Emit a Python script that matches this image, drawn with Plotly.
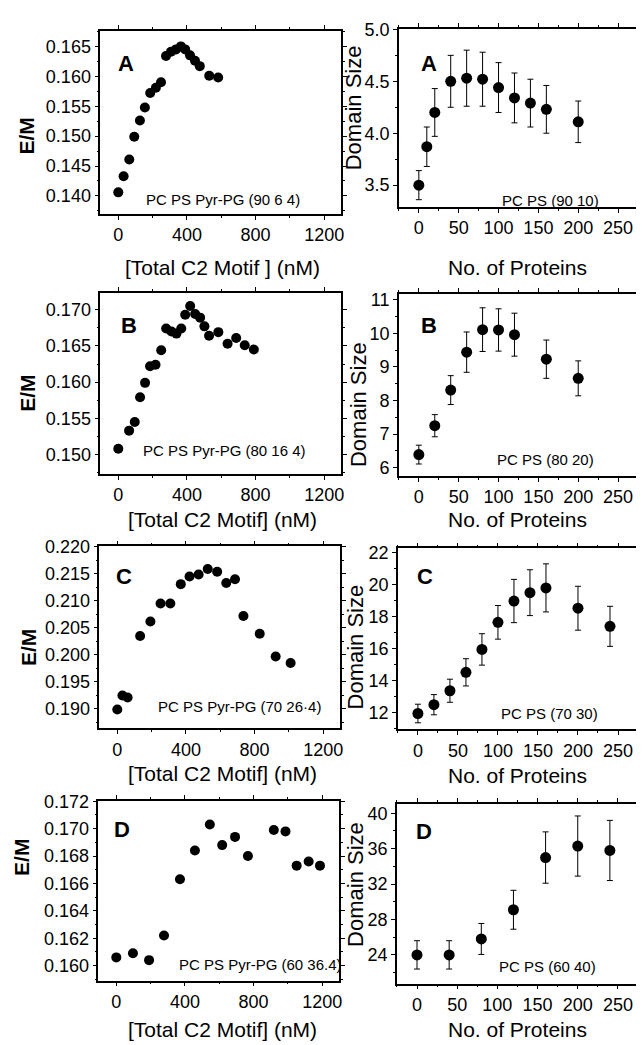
import plotly.graph_objects as go

# the page body adds an 8px margin, so the figure is sized to fit inside the window
OFF = 8
W, H = 644 - OFF, 1045 - OFF

# E/M vs total C2 motif (nM), left column
em_a_conc = [0, 31, 64, 93, 126, 155, 186, 219, 249, 278, 307, 336, 365, 390, 418, 447, 475, 530, 582]
em_a = [0.1406, 0.1433, 0.1461, 0.1499, 0.1526, 0.1548, 0.1572, 0.1581, 0.1590, 0.1634,
        0.1641, 0.1645, 0.1650, 0.1645, 0.1635, 0.1626, 0.1617, 0.1601, 0.1598]

em_b_conc = [0, 63, 96, 127, 156, 185, 217, 250, 279, 310, 339, 367, 390, 419, 448, 477,
             502, 529, 583, 637, 687, 737, 790]
em_b = [0.1508, 0.1533, 0.1545, 0.1579, 0.1599, 0.1622, 0.1624, 0.1644, 0.1674, 0.1670,
        0.1667, 0.1674, 0.1693, 0.1705, 0.1694, 0.1689, 0.1677, 0.1664, 0.1669, 0.1653,
        0.1661, 0.1651, 0.1645]

em_c_conc = [0, 30, 60, 133, 193, 252, 309, 370, 421, 474, 527, 582, 635, 686, 735, 830, 923, 1010]
em_c = [0.1899, 0.1925, 0.1921, 0.2035, 0.2062, 0.2095, 0.2095, 0.2131, 0.2145, 0.2149,
        0.2159, 0.2154, 0.2133, 0.2140, 0.2072, 0.2039, 0.1997, 0.1985]

em_d_conc = [0, 97, 191, 278, 371, 458, 545, 617, 692, 767, 918, 986, 1051, 1121, 1187]
em_d = [0.1606, 0.1609, 0.1604, 0.1622, 0.1663, 0.1684, 0.1703, 0.1688, 0.1694, 0.1680,
        0.1699, 0.1698, 0.1673, 0.1676, 0.1673]

# Domain size vs number of proteins, right column
prot_a = [0, 10, 20, 40, 60, 80, 100, 120, 140, 160, 200]
dom_a = [3.50, 3.87, 4.20, 4.50, 4.53, 4.52, 4.44, 4.34, 4.29, 4.23, 4.11]
err_a = [0.14, 0.19, 0.23, 0.25, 0.27, 0.26, 0.24, 0.24, 0.23, 0.23, 0.20]

prot_b = [0, 20, 40, 60, 80, 100, 120, 160, 200]
dom_b = [6.39, 7.25, 8.31, 9.44, 10.11, 10.10, 9.96, 9.23, 8.66]
err_b = [0.28, 0.33, 0.43, 0.60, 0.65, 0.63, 0.64, 0.57, 0.52]

prot_c = [0, 20, 40, 60, 80, 100, 120, 140, 160, 200, 240]
dom_c = [11.96, 12.51, 13.38, 14.53, 15.96, 17.65, 18.98, 19.50, 19.80, 18.53, 17.40]
err_c = [0.58, 0.63, 0.72, 0.85, 0.98, 1.05, 1.35, 1.43, 1.50, 1.37, 1.25]

prot_d = [0, 40, 80, 120, 160, 200, 240]
dom_d = [24.0, 24.0, 25.8, 29.1, 35.0, 36.3, 35.8]
err_d = [1.6, 1.6, 1.75, 2.2, 2.9, 3.4, 3.4]

panel_letters = ["A", "B", "C", "D"]
left_labels = ["PC PS Pyr-PG (90 6 4)", "PC PS Pyr-PG (80 16 4)",
               "PC PS Pyr-PG (70 26·4)", "PC PS Pyr-PG (60 36.4)"]
right_labels = ["PC PS (90 10)", "PC PS (80 20)", "PC PS (70 30)", "PC PS (60 40)"]
left_xtitles = ["[Total C2 Motif ] (nM)", "[Total C2 Motif] (nM)",
                "[Total C2 Motif] (nM)", "[Total C2 Motif] (nM)"]

FONT = "Liberation Sans, Arial, sans-serif"

# pixel boxes in the window (x0, x1, y0, y1) for each panel
left_boxes = [(101, 344, 22, 207), (101, 344, 287, 470), (100, 343, 543, 727), (99, 342, 800, 982)]
right_boxes = [(402, 643, 20, 200), (402, 643, 288, 472), (401, 643, 545, 728), (400, 643, 803, 985)]

left_yrange = [[0.1370, 0.1676], [0.1473, 0.1723], [0.1864, 0.2201], [0.1589, 0.17205]]
left_ytick = [0.005, 0.005, 0.005, 0.002]
right_yrange = [[3.29, 5.005], [5.75, 11.17], [10.97, 22.27], [20.75, 41.1]]
right_ytick = [0.5, 1, 2, 4]
right_yfmt = [".1f", "d", "d", "d"]

left_series = [(em_a_conc, em_a), (em_b_conc, em_b), (em_c_conc, em_c), (em_d_conc, em_d)]
right_series = [(prot_a, dom_a, err_a), (prot_b, dom_b, err_b),
                (prot_c, dom_c, err_c), (prot_d, dom_d, err_d)]

# annotation positions in window pixels
letter_left = [(127, 55), (130, 320), (125, 573), (123, 829)]
letter_right = [(432, 55), (432, 320), (428, 574), (427, 831)]
label_left = [(225, 192), (226, 446), (241, 705), (262, 966)]
label_right = [(555, 193), (550, 455), (554, 712), (552, 968)]
xtitle_left_y = [261, 516, 773, 1031]
xtitle_right_y = [261, 516, 775, 1031]
ytitle_left = [(27, 128), (28, 388), (28, 645), (22, 857)]
ytitle_right = [(356, 100), (362, 400), (358, 645), (358, 885)]


def px(x):
    return (x - OFF) / W


def py(y):
    return 1 - (y - OFF) / H


def text_note(x, y, text, size, angle=0):
    return dict(x=px(x), y=py(y), xref="paper", yref="paper", text=text,
                showarrow=False, xanchor="center", yanchor="middle", textangle=angle,
                font=dict(family=FONT, size=size, color="black"))


fig = go.Figure()

axis_common = dict(
    showline=True, linecolor="black", linewidth=1.5, mirror="ticks",
    ticks="outside", ticklen=4, tickwidth=1.2, tickcolor="black",
    showgrid=False, zeroline=False,
    tickfont=dict(family=FONT, size=18, color="black"),
)

layout = {}
annotations = []

for i in range(4):
    for side in range(2):
        n = 2 * i + side + 1
        suffix = "" if n == 1 else str(n)
        x0, x1, y0, y1 = left_boxes[i] if side == 0 else right_boxes[i]
        xa = dict(axis_common, domain=[px(x0), px(x1)], anchor="y" + suffix)
        ya = dict(axis_common, domain=[py(y1), py(y0)], anchor="x" + suffix)
        if side == 0:
            xa.update(range=[-105, 1300], dtick=400, tick0=0,
                      minor=dict(dtick=200, ticks="outside", ticklen=2, tickcolor="black"))
            ya.update(range=left_yrange[i], dtick=left_ytick[i], tick0=0, tickformat=".3f",
                      minor=dict(dtick=left_ytick[i] / 2, ticks="outside", ticklen=2,
                                 tickcolor="black"))
            xs, ys = left_series[i]
            fig.add_trace(go.Scatter(
                x=xs, y=ys, mode="markers", xaxis="x" + suffix, yaxis="y" + suffix,
                marker=dict(color="black", size=10), showlegend=False,
            ))
        else:
            xa.update(range=[-25, 275], dtick=50, tick0=0,
                      minor=dict(dtick=25, ticks="outside", ticklen=2, tickcolor="black"))
            ya.update(range=right_yrange[i], dtick=right_ytick[i], tick0=0,
                      tickformat=right_yfmt[i],
                      minor=dict(dtick=right_ytick[i] / 2, ticks="outside", ticklen=2,
                                 tickcolor="black"))
            xs, ys, es = right_series[i]
            fig.add_trace(go.Scatter(
                x=xs, y=ys, mode="markers", xaxis="x" + suffix, yaxis="y" + suffix,
                marker=dict(color="black", size=11), showlegend=False,
                error_y=dict(type="data", array=es, color="black", thickness=1, width=3),
            ))
        layout["xaxis" + suffix] = xa
        layout["yaxis" + suffix] = ya

    for (lx, ly) in (letter_left[i], letter_right[i]):
        annotations.append(text_note(lx, ly, "<b>%s</b>" % panel_letters[i], 22))
    annotations.append(text_note(*label_left[i], left_labels[i], 15))
    annotations.append(text_note(*label_right[i], right_labels[i], 15))
    annotations.append(text_note(224, xtitle_left_y[i], left_xtitles[i], 21))
    annotations.append(text_note(522, xtitle_right_y[i], "No. of Proteins", 21))
    annotations.append(text_note(*ytitle_left[i], "<b>E/M</b>", 21, -90))
    annotations.append(text_note(*ytitle_right[i], "Domain Size", 22, -90))

fig.update_layout(
    width=W, height=H,
    margin=dict(l=0, r=0, t=0, b=0),
    paper_bgcolor="white", plot_bgcolor="white",
    annotations=annotations,
    **layout,
)

fig.write_html("out.html")
